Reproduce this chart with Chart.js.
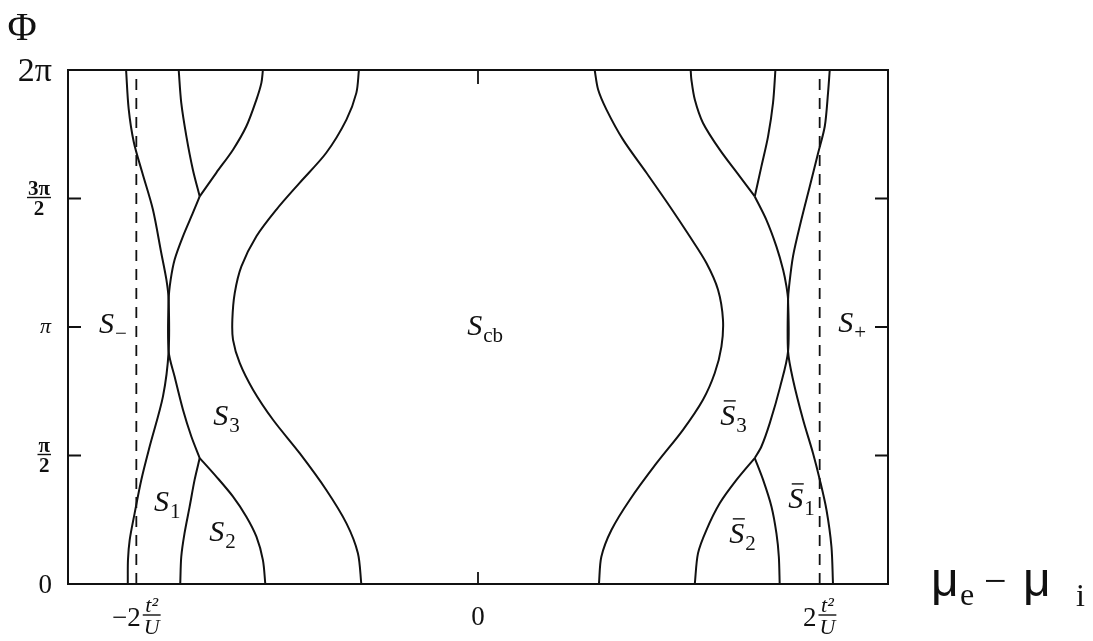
<!DOCTYPE html>
<html>
<head>
<meta charset="utf-8">
<script src="https://cdn.jsdelivr.net/npm/chart.js@4.4.1/dist/chart.umd.min.js"></script>
<style>
  html, body { margin: 0; padding: 0; background: #fff; }
</style>
</head>
<body>
<canvas id="phase" width="1093" height="641"></canvas>
<script>
// Phase boundaries: x = mu_e - mu_i in units of t^2/U, y = Phi in units of pi
const outerLeft = [[-2.06,2.0],[-2.045,1.85],[-2.015,1.72],[-1.965,1.6],[-1.903,1.457],[-1.854,1.288],[-1.824,1.184],[-1.811,1.106],[-1.811,0.905],[-1.844,0.730],[-1.922,0.535],[-1.971,0.405],[-2.010,0.275],[-2.039,0.171],[-2.049,0.093],[-2.05,0]];
const innerLeft = [[-1.629,1.508],[-1.669,1.444],[-1.727,1.353],[-1.776,1.262],[-1.799,1.184],[-1.811,1.106],[-1.811,0.905],[-1.776,0.807],[-1.727,0.678],[-1.678,0.574],[-1.629,0.490]];
const stemLeftTop = [[-1.629,1.508],[-1.669,1.612],[-1.707,1.742],[-1.737,1.872],[-1.752,2.0]];
const stemLeftBottom = [[-1.629,0.490],[-1.659,0.405],[-1.688,0.301],[-1.718,0.197],[-1.737,0.106],[-1.743,0]];
const fanLeftTop = [[-1.629,1.508],[-1.532,1.600],[-1.434,1.690],[-1.356,1.781],[-1.297,1.885],[-1.268,1.950],[-1.259,2.0]];
const fanLeftBottom = [[-1.629,0.490],[-1.532,0.418],[-1.434,0.340],[-1.356,0.262],[-1.297,0.184],[-1.259,0.093],[-1.245,0]];
const cbLeft = [[-0.697,2.0],[-0.712,1.911],[-0.770,1.807],[-0.888,1.678],[-1.044,1.561],[-1.180,1.457],[-1.297,1.353],[-1.385,1.236],[-1.424,1.132],[-1.438,1.028],[-1.434,0.950],[-1.395,0.860],[-1.317,0.756],[-1.200,0.639],[-1.044,0.509],[-0.888,0.366],[-0.770,0.236],[-0.703,0.120],[-0.683,0]];

const cbRight = [[0.683,2.0],[0.703,1.924],[0.752,1.846],[0.849,1.729],[0.986,1.600],[1.122,1.470],[1.239,1.353],[1.337,1.249],[1.405,1.145],[1.434,1.028],[1.425,0.924],[1.386,0.821],[1.317,0.717],[1.200,0.600],[1.045,0.470],[0.888,0.327],[0.781,0.210],[0.722,0.106],[0.708,0]];
const fanRightTop = [[1.620,1.508],[1.532,1.586],[1.415,1.690],[1.317,1.794],[1.269,1.885],[1.249,1.963],[1.245,2.0]];
const fanRightBottom = [[1.620,0.490],[1.513,0.405],[1.415,0.314],[1.337,0.210],[1.288,0.120],[1.269,0]];
const stemRightTop = [[1.620,1.508],[1.659,1.625],[1.698,1.742],[1.727,1.872],[1.741,2.0]];
const stemRightBottom = [[1.620,0.490],[1.669,0.405],[1.718,0.301],[1.747,0.197],[1.761,0.106],[1.766,0]];
const innerRight = [[1.620,1.508],[1.688,1.417],[1.747,1.313],[1.786,1.223],[1.805,1.16],[1.815,1.106],[1.815,0.905],[1.769,0.768],[1.708,0.626],[1.659,0.535],[1.620,0.490]];
const outerRight = [[2.059,2.0],[2.049,1.911],[2.030,1.781],[1.991,1.677],[1.942,1.547],[1.893,1.418],[1.844,1.275],[1.821,1.158],[1.815,1.106],[1.815,0.905],[1.844,0.795],[1.903,0.639],[1.961,0.509],[2.001,0.405],[2.040,0.288],[2.069,0.145],[2.078,0]];

// dashed guides at +-2 t^2/U
const guideX = [-2, 2];
const phiRange = [0, 2];

// ticks
const xTicks = [-2, 0, 2];
const xTickLabels = ['−2 t²/U', '0', '2 t²/U'];
const yTicks = [0, 0.5, 1, 1.5, 2];
const yTickLabels = ['0', 'π/2', 'π', '3π/2', '2π'];

// region names: [letter, subscript, has bar]
const regionNames = [['S','−',false],['S','cb',false],['S','+',false],['S','3',false],['S','3',true],['S','1',false],['S','1',true],['S','2',false],['S','2',true]];
const regionAt = [[-2.174,1.017],[-0.019,1.009],[2.152,1.02],[-1.506,0.658],[1.462,0.658],[-1.852,0.323],[1.86,0.335],[-1.53,0.206],[1.515,0.199]];

const INK = '#111';
const SERIF = "'Liberation Serif', 'DejaVu Serif', serif";
const SANS = "'Liberation Sans', 'DejaVu Sans', sans-serif";

const toPts = arr => arr.map(p => ({ x: p[0], y: p[1] }));

const curves = [outerLeft, innerLeft, stemLeftTop, stemLeftBottom, fanLeftTop, fanLeftBottom, cbLeft,
                cbRight, fanRightTop, fanRightBottom, stemRightTop, stemRightBottom, innerRight, outerRight];

const datasets = curves.map(c => ({
    data: toPts(c),
    borderColor: INK,
    borderWidth: 2,
    pointRadius: 0,
    tension: 0.3,
    fill: false
}));

guideX.forEach(gx => {
    datasets.push({
        data: phiRange.map(v => ({ x: gx, y: v })),
        borderColor: INK,
        borderWidth: 1.8,
        borderDash: [11, 8],
        pointRadius: 0,
        fill: false
    });
});

function fracWidth(ctx, num, den, font) {
    ctx.font = font;
    return Math.max(ctx.measureText(num).width, ctx.measureText(den).width) + 2;
}

function drawFrac(ctx, num, den, cx, barY, font) {
    const w = fracWidth(ctx, num, den, font);
    ctx.textAlign = 'center';
    ctx.textBaseline = 'alphabetic';
    ctx.fillText(num, cx, barY - 3);
    ctx.textBaseline = 'top';
    ctx.fillText(den, cx, barY + 2);
    ctx.lineWidth = 1.4;
    ctx.beginPath();
    ctx.moveTo(cx - w / 2, barY);
    ctx.lineTo(cx + w / 2, barY);
    ctx.stroke();
}

const decorations = {
    id: 'decorations',
    afterDraw(chart) {
        const ctx = chart.ctx;
        const area = chart.chartArea;
        const xs = chart.scales.x, ys = chart.scales.y;
        ctx.save();
        ctx.strokeStyle = INK;
        ctx.fillStyle = INK;

        // frame
        ctx.lineWidth = 2;
        ctx.strokeRect(area.left, area.top, area.right - area.left, area.bottom - area.top);

        // inward ticks
        ctx.lineWidth = 1.8;
        yTicks.forEach(v => {
            if (v === 0 || v === 2) return;
            const py = ys.getPixelForValue(v);
            ctx.beginPath();
            ctx.moveTo(area.left, py); ctx.lineTo(area.left + 13, py);
            ctx.moveTo(area.right, py); ctx.lineTo(area.right - 13, py);
            ctx.stroke();
        });
        const px0 = xs.getPixelForValue(0);
        ctx.beginPath();
        ctx.moveTo(px0, area.bottom); ctx.lineTo(px0, area.bottom - 12);
        ctx.moveTo(px0, area.top); ctx.lineTo(px0, area.top + 14);
        ctx.stroke();

        // y tick labels
        const rightEdge = area.left - 17;
        yTicks.forEach((v, i) => {
            const py = ys.getPixelForValue(v);
            const lab = yTickLabels[i];
            if (lab.includes('/')) {
                const [num, den] = lab.split('/');
                const f = "bold 21px " + SERIF;
                const w = fracWidth(ctx, num, den, f);
                drawFrac(ctx, num, den, rightEdge - w / 2, py - 1, f);
            } else if (lab === 'π') {
                ctx.font = "italic 22px " + SERIF;
                ctx.textAlign = 'right';
                ctx.textBaseline = 'middle';
                ctx.fillText(lab, rightEdge, py);
            } else {
                ctx.font = (lab === '2π' ? "34px " : "27px ") + SERIF;
                ctx.textAlign = 'right';
                ctx.textBaseline = 'middle';
                ctx.fillText(lab, rightEdge + 1, py + 2);
            }
        });

        // x tick labels
        xTicks.forEach((v, i) => {
            const px = xs.getPixelForValue(v);
            const lab = xTickLabels[i];
            if (lab.includes(' ')) {
                const [pre, frac] = lab.split(' ');
                const [num, den] = frac.split('/');
                const ff = "italic 22px " + SERIF;
                ctx.font = "27px " + SERIF;
                const wp = ctx.measureText(pre).width;
                const wf = fracWidth(ctx, num, den, ff);
                const start = px - (wp + 2 + wf) / 2;
                ctx.font = "27px " + SERIF;
                ctx.textAlign = 'left';
                ctx.textBaseline = 'middle';
                ctx.fillText(pre, start, area.bottom + 35);
                drawFrac(ctx, num, den, start + wp + 2 + wf / 2, area.bottom + 31, ff);
            } else {
                ctx.font = "27px " + SERIF;
                ctx.textAlign = 'center';
                ctx.textBaseline = 'middle';
                ctx.fillText(lab, px, area.bottom + 34);
            }
        });

        // axis titles
        ctx.font = "40px " + SERIF;
        ctx.textAlign = 'center';
        ctx.textBaseline = 'alphabetic';
        ctx.fillText('Φ', 22, 40);

        ctx.textAlign = 'left';
        ctx.font = "48px " + SANS;
        ctx.fillText('μ', 931, 596);
        ctx.font = "32px " + SERIF;
        ctx.fillText('e', 960, 605);
        ctx.font = "40px " + SERIF;
        ctx.fillText('−', 984, 594);
        ctx.font = "48px " + SANS;
        ctx.fillText('μ', 1023, 596);
        ctx.font = "32px " + SERIF;
        ctx.fillText('i', 1076, 606);

        // region names
        regionNames.forEach((r, i) => {
            const cx = xs.getPixelForValue(regionAt[i][0]);
            const cy = ys.getPixelForValue(regionAt[i][1]);
            ctx.font = "italic 30px " + SERIF;
            ctx.textAlign = 'center';
            ctx.textBaseline = 'alphabetic';
            ctx.fillText(r[0], cx, cy + 10);
            const w = ctx.measureText(r[0]).width;
            ctx.font = "21px " + SERIF;
            ctx.textAlign = 'left';
            ctx.fillText(r[1], cx + w / 2 + 1, cy + 17);
            if (r[2]) {
                ctx.lineWidth = 1.4;
                ctx.beginPath();
                ctx.moveTo(cx - 4, cy - 14);
                ctx.lineTo(cx + 8, cy - 14);
                ctx.stroke();
            }
        });

        ctx.restore();
    }
};

new Chart(document.getElementById('phase'), {
    type: 'line',
    data: { datasets: datasets },
    options: {
        responsive: false,
        animation: false,
        layout: { padding: { left: 68, top: 70, right: 205, bottom: 57 } },
        scales: {
            x: { type: 'linear', min: -2.4, max: 2.4, display: false },
            y: { type: 'linear', min: 0, max: 2, display: false }
        },
        plugins: {
            legend: { display: false },
            tooltip: { enabled: false }
        }
    },
    plugins: [decorations]
});
</script>
</body>
</html>
